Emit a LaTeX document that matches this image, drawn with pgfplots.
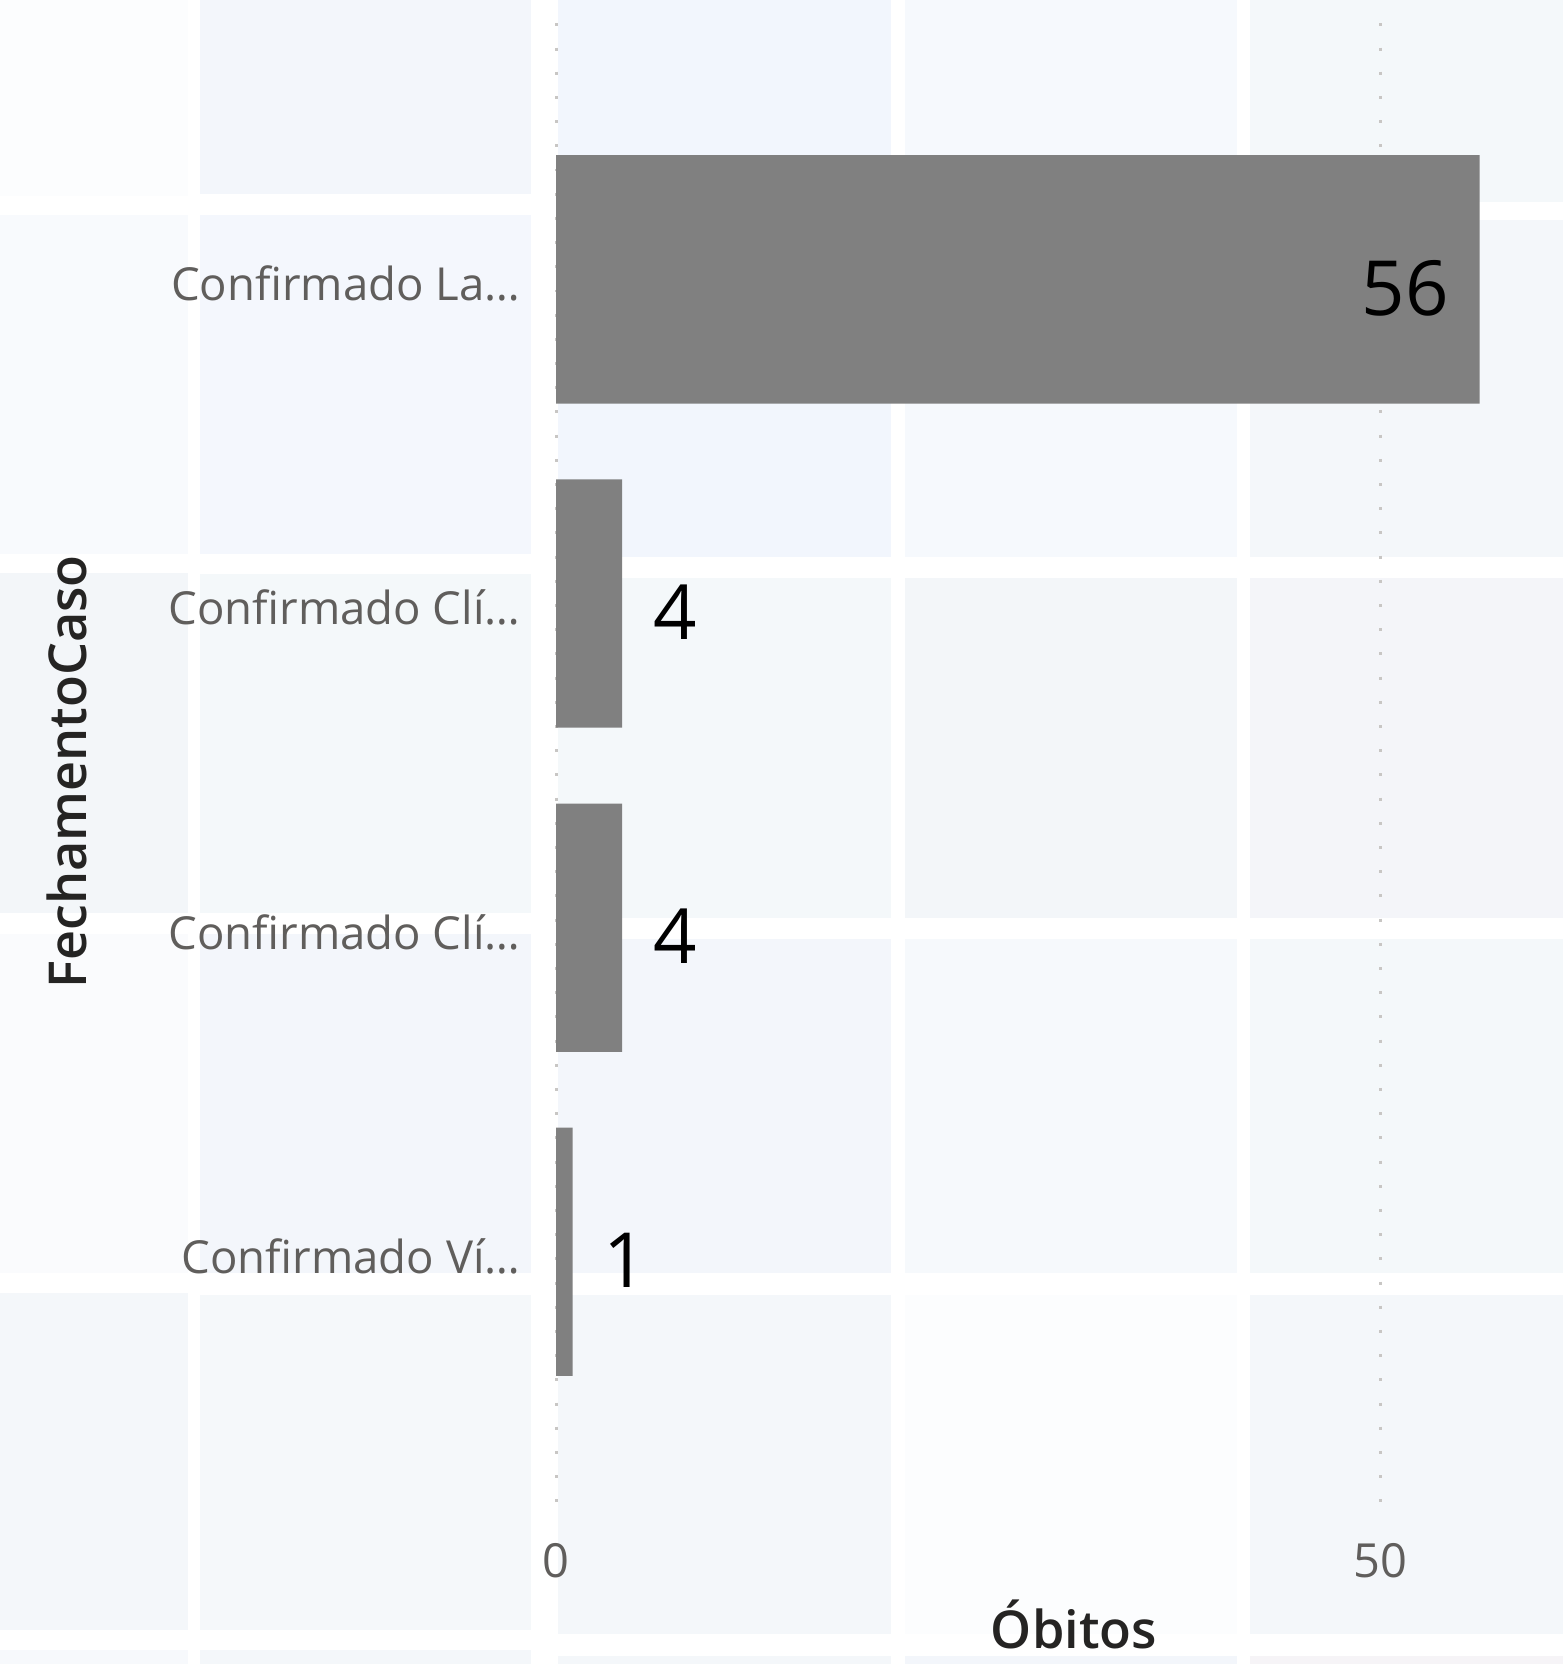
\documentclass[border=0pt]{standalone}
\usepackage{fontspec}
\setmainfont{Open Sans}
\newfontfamily\titlefont{Open Sans Semibold}
\usepackage{pgfplots}
\pgfplotsset{compat=1.18}
\pgfplotsset{/pgf/number format/assume math mode=true}

\definecolor{barc}{HTML}{808080}
\definecolor{gridc}{HTML}{C8C6C4}
\definecolor{tickc}{HTML}{605E5C}
\definecolor{titlec}{HTML}{252423}
% pale tiles of the report background
\definecolor{ta}{HTML}{FCFDFE}
\definecolor{tb}{HTML}{F8FAFD}
\definecolor{tc}{HTML}{F3F6F9}
\definecolor{td}{HTML}{FAFBFD}
\definecolor{te}{HTML}{F4F7FA}
\definecolor{tf}{HTML}{F7F9FC}
\definecolor{tg}{HTML}{F3F6FB}
\definecolor{th}{HTML}{F4F7FD}
\definecolor{ti}{HTML}{F4F8FA}
\definecolor{tj}{HTML}{F5F8FA}
\definecolor{tk}{HTML}{F2F6FD}
\definecolor{tl}{HTML}{F6F9FD}
\definecolor{tm}{HTML}{F6F9FC}
\definecolor{tn}{HTML}{F4F5F9}
\definecolor{to}{HTML}{F6F4F7}

\newcommand{\tile}[5]{\fill[#5] (#1,#2) rectangle (#3,#4);}

\begin{document}
\begin{tikzpicture}
\path[use as bounding box] (0,0) rectangle (147.2mm,-156.8mm);
\fill[white] (0,0) rectangle (147.2mm,-156.8mm);
\begin{scope}[x=0.1mm,y=-0.1mm]
\tile{0}{0}{177}{185}{ta}
\tile{0}{203}{177}{522}{tb}
\tile{0}{540}{177}{860}{tc}
\tile{0}{880}{177}{1200}{td}
\tile{0}{1218}{177}{1536}{te}
\tile{0}{1555}{177}{1600}{tf}
\tile{188}{0}{500}{183}{tg}
\tile{188}{203}{500}{522}{th}
\tile{188}{541}{500}{860}{ti}
\tile{188}{880}{500}{1200}{tg}
\tile{188}{1220}{500}{1536}{tj}
\tile{188}{1555}{500}{1600}{te}
\tile{526}{0}{840}{525}{tk}
\tile{526}{545}{840}{865}{ti}
\tile{526}{885}{840}{1200}{tg}
\tile{526}{1220}{840}{1540}{te}
\tile{526}{1560}{840}{1600}{te}
\tile{853}{0}{1166}{525}{tl}
\tile{853}{545}{1166}{865}{tc}
\tile{853}{885}{1166}{1200}{tm}
\tile{853}{1220}{1166}{1540}{ta}
\tile{853}{1560}{1166}{1600}{tg}
\tile{1178}{0}{1500}{190}{ti}
\tile{1178}{207}{1500}{525}{te}
\tile{1178}{545}{1500}{865}{tn}
\tile{1178}{885}{1500}{1200}{ti}
\tile{1178}{1220}{1500}{1540}{te}
\tile{1178}{1560}{1500}{1600}{to}
\end{scope}

\begin{axis}[
    at={(52.4mm,-143.0mm)}, anchor=south west,
    scale only axis,
    width=94.8mm, height=140.8mm,
    xbar,
    bar width=23.4mm,
    xmin=0, xmax=61,
    ymin=-0.79, ymax=3.82,
    y dir=reverse,
    xtick={0,50},
    ytick={0,1,2,3},
    yticklabels={Confirmado La…, Confirmado Clí…, Confirmado Clí…, Confirmado Ví…},
    axis line style={draw=none},
    major tick length=0pt,
    xmajorgrids,
    major grid style={color=gridc, line width=0.28mm, dash pattern=on 0.28mm off 2.0mm},
    xticklabel style={font=\fontsize{12.6}{15}\selectfont, color=tickc, inner sep=0pt, anchor=north, yshift=-2.4mm},
    yticklabel style={font=\fontsize{12.2}{14}\selectfont, color=tickc, inner sep=0pt, anchor=east, xshift=-3.3mm, yshift=-0.4mm},
    xlabel={Óbitos},
    ylabel={FechamentoCaso},
    xlabel style={at={(axis description cs:0.5148,0)}, anchor=base, yshift=-12.3mm,
        font=\titlefont\fontsize{14}{16}\selectfont, color=titlec},
    ylabel style={at={(axis description cs:-0.486,0.499)}, anchor=center,
        font=\titlefont\fontsize{14}{16}\selectfont, color=titlec},
    point meta=x,
    nodes near coords,
    every node near coord/.append style={font=\fontsize{20.4}{24}\selectfont, color=black,
        inner sep=0pt, inner xsep=2.85mm, yshift=-0.8mm},
    coordinate style/.condition={x>50}{anchor=east},
]
\addplot[fill=barc, draw=none] coordinates {(56,0) (4,1) (4,2) (1,3)};
\end{axis}
\end{tikzpicture}
\end{document}
